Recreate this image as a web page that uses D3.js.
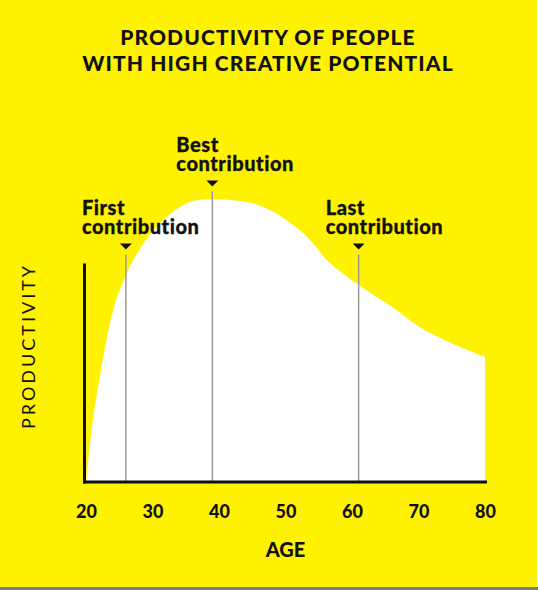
<!DOCTYPE html>
<html>
<head>
<meta charset="utf-8">
<script src="https://cdn.jsdelivr.net/npm/d3@7"></script>
<style>
  body { margin: 0; background: #ffffff; }
  svg { display: block; }
</style>
</head>
<body>
<div id="chart"></div>
<script>
// data (productivity relative to the peak)
var ages = [20, 21, 22, 24, 26, 28, 30, 33, 36, 39, 42, 45, 48, 50, 52, 54, 56, 58, 61, 63, 66, 70, 75, 80];
var productivity = [0, 0.21, 0.36, 0.60, 0.73, 0.82, 0.885, 0.953, 0.992, 1.0, 0.996, 0.985, 0.957, 0.928, 0.893, 0.847, 0.79, 0.748, 0.696, 0.664, 0.619, 0.55, 0.49, 0.442];
var age_ticks = [20, 30, 40, 50, 60, 70, 80];

var marker_ages = [26, 39, 61];
var marker_line1 = ["First", "Best", "Last"];
var marker_line2 = ["contribution", "contribution", "contribution"];
var marker_level = [1, 0, 1]; // 0 = high label, 1 = low label

var title_lines = ["PRODUCTIVITY OF PEOPLE", "WITH HIGH CREATIVE POTENTIAL"];

//initialization
var width = 538;
var height = 590;
var yellow = "#fff200";
var font = "Lato, 'Open Sans', sans-serif";

var svg = d3.select("#chart")
  .append("svg")
  .attr("width", width)
  .attr("height", height);

// background (with the grey strip at the bottom of the photo)
svg.append("rect").attr("x", 0).attr("y", 0)
  .attr("width", width).attr("height", height)
  .style("fill", "#ffffff");
svg.append("rect").attr("x", 0).attr("y", 0)
  .attr("width", width - 1).attr("height", height - 3)
  .style("fill", yellow);
svg.append("rect").attr("x", 0).attr("y", height - 3)
  .attr("width", width).attr("height", 3)
  .style("fill", "#7a7a7a");

//scales
var x = d3.scaleLinear().domain([20, 80]).range([86, 485]);
var y = d3.scaleLinear().domain([0, 1]).range([482, 199]);
var y_axis_top = 0.767;

//title
svg.append("g").selectAll("text")
  .data(title_lines).enter()
  .append("text")
  .attr("x", 268)
  .attr("y", function(d, i){ return 45 + i * 26; })
  .attr("text-anchor", "middle")
  .style("font-family", font)
  .style("font-weight", 900)
  .style("font-size", "21px")
  .style("letter-spacing", "1.1px")
  .style("fill", "#111111")
  .text(function(d){ return d; });

//white area under the curve
var points = ages.map(function(a, i){ return [a, productivity[i]]; });
var area = d3.area()
  .x(function(d){ return x(d[0]); })
  .y0(y(0))
  .y1(function(d){ return y(d[1]); })
  .curve(d3.curveMonotoneX);

svg.append("path")
  .datum(points)
  .attr("d", area)
  .style("fill", "#ffffff");

//marker lines, triangles and labels
var label_shift = [44, 36, 33];
var markers = svg.append("g");
marker_ages.forEach(function(a, i){
  var mx = x(a);
  var tri_y = marker_level[i] == 1 ? 243.5 : 180.5;
  markers.append("line")
    .attr("x1", mx).attr("x2", mx)
    .attr("y1", tri_y + 11).attr("y2", y(0))
    .style("stroke", "#999999")
    .style("stroke-width", 1.5);
  markers.append("path")
    .attr("d", "M" + (mx - 6) + "," + tri_y + "L" + (mx + 6) + "," + tri_y + "L" + mx + "," + (tri_y + 6) + "Z")
    .style("fill", "#111111");
  [marker_line1[i], marker_line2[i]].forEach(function(t, j){
    markers.append("text")
      .attr("x", mx - label_shift[i])
      .attr("y", tri_y - 29 + j * 19)
      .style("font-family", font)
      .style("font-weight", 900)
      .style("font-size", "20px")
      .style("letter-spacing", "0.55px")
      .style("font-variant-ligatures", "none")
      .style("fill", "#111111")
      .style("stroke", "#111111")
      .style("stroke-width", 0.3)
      .text(t);
  });
});

//axes
svg.append("line")
  .attr("x1", x(20) - 1.5).attr("x2", x(20) - 1.5)
  .attr("y1", y(y_axis_top)).attr("y2", y(0))
  .style("stroke", "#111111")
  .style("stroke-width", 3)
  .style("stroke-linecap", "square");

var x_axis = svg.append("g")
  .attr("transform", "translate(0," + y(0) + ")")
  .call(d3.axisBottom(x).tickValues(age_ticks).tickSize(0).tickPadding(23));
x_axis.select(".domain")
  .attr("d", "M" + (x(20) - 1.5) + ",0H" + (x(80) + 0.5))
  .style("stroke", "#111111")
  .style("stroke-width", 3)
  .style("stroke-linecap", "square");
x_axis.selectAll("text")
  .style("font-family", font)
  .style("font-weight", 900)
  .style("font-size", "18px")
  .style("fill", "#111111");

svg.append("text")
  .attr("x", x(50))
  .attr("y", 557)
  .attr("text-anchor", "middle")
  .style("font-family", font)
  .style("font-weight", 900)
  .style("font-size", "20px")
  .style("fill", "#111111")
  .text("AGE");

svg.append("text")
  .attr("transform", "translate(35,346) rotate(-90)")
  .attr("text-anchor", "middle")
  .style("font-family", font)
  .style("font-weight", 400)
  .style("font-size", "18px")
  .style("letter-spacing", "3px")
  .style("fill", "#111111")
  .text("PRODUCTIVITY");
</script>
</body>
</html>
